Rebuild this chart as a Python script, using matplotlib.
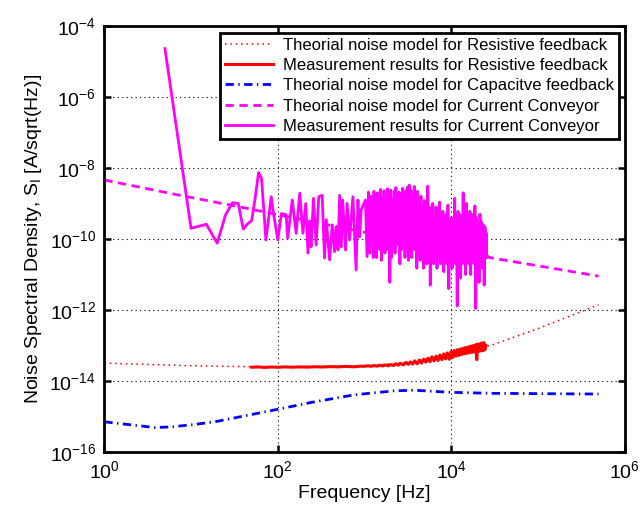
import numpy as np
import matplotlib.pyplot as plt
from matplotlib.ticker import FixedLocator, NullLocator

plt.rcParams['font.family'] = ['Liberation Sans', 'DejaVu Sans']
plt.rcParams['mathtext.default'] = 'regular'

# theory curves
res_th_f = [1, 10, 100, 1000, 3000, 1e4, 3e4, 1e5, 5e5]
res_th_v = [3.2e-14, 2.7e-14, 2.45e-14, 2.7e-14, 3.3e-14, 5.5e-14, 1.05e-13, 3e-13, 1.4e-12]

cap_th_f = [1, 3.8, 5.9, 11, 18.7, 38, 100, 243, 770, 2200, 3800, 1e4, 3.1e4, 5e5]
cap_th_v = [7.1e-16, 4.9e-16, 5.1e-16, 6e-16, 7.1e-16, 1e-15, 1.6e-15, 2.5e-15,
            4.1e-15, 5.3e-15, 5.5e-15, 4.8e-15, 4.5e-15, 4.3e-15]

cc_th_f = [1, 7.4, 36, 67.5, 2.77e4, 5e5]
cc_th_v = [4.6e-9, 1.7e-9, 8.1e-10, 5.9e-10, 3e-11, 9e-12]

# measured resistive feedback
res_m_f = [50, 60, 70, 85, 100, 120, 150, 180, 220, 270, 330, 400, 500, 600, 750, 900,
           1000, 1100, 1200, 1300, 1400, 1500, 1620, 1750, 1880, 2000,
           2150, 2300, 2450, 2600, 2800, 3000, 3200, 3400, 3600, 3800,
           4050, 4300, 4550, 4800, 5100, 5400, 5700, 6000, 6350, 6700,
           7050, 7400, 7800, 8200, 8600, 9000, 9500, 10000, 10400, 10800,
           11250, 11700, 12150, 12600, 13100, 13600, 14100, 14600, 15150, 15700,
           16250, 16800, 17400, 18000, 18600, 19200, 19700, 20200, 20800, 21400,
           22000, 22600, 23200, 23800, 24400, 25000]
res_m_v = [2.45e-14, 2.5e-14, 2.42e-14, 2.48e-14, 2.44e-14, 2.5e-14, 2.45e-14, 2.5e-14,
           2.46e-14, 2.52e-14, 2.48e-14, 2.55e-14, 2.5e-14, 2.58e-14, 2.52e-14, 2.62e-14,
           2.6e-14, 2.68e-14, 2.6e-14, 2.72e-14, 2.62e-14, 2.78e-14, 2.65e-14, 2.85e-14, 2.68e-14, 2.9e-14,
           2.72e-14, 3.05e-14, 2.8e-14, 3.15e-14, 2.85e-14, 3.35e-14, 2.95e-14, 3.45e-14, 3.0e-14, 3.7e-14,
           3.05e-14, 3.9e-14, 3.2e-14, 4.1e-14, 3.4e-14, 4.4e-14, 3.5e-14, 4.8e-14, 3.7e-14, 5.0e-14,
           3.8e-14, 5.4e-14, 4.0e-14, 5.8e-14, 4.2e-14, 6.2e-14, 4.1e-14, 6.8e-14, 4.6e-14, 7.2e-14,
           5.0e-14, 7.6e-14, 5.2e-14, 8.0e-14, 5.5e-14, 8.4e-14, 5.8e-14, 8.8e-14, 6.0e-14, 9.2e-14,
           6.2e-14, 9.6e-14, 6.4e-14, 1.0e-13, 6.6e-14, 1.05e-13, 4.0e-14, 1.1e-13, 6.8e-14, 1.12e-13,
           7.0e-14, 1.18e-13, 7.2e-14, 1.2e-13, 7.5e-14, 1.0e-13]

# measured current conveyor
cc_m_f = [5, 10, 15, 20, 25, 30, 35, 40, 45, 50, 55, 60, 65, 73, 84, 88, 100, 110, 125,
          130, 147, 157, 163, 179, 195, 210, 223, 233, 242, 258, 277, 297, 325, 346, 362,
          396, 425, 452, 470, 495, 517, 540, 560, 605, 630, 673, 735, 800, 840, 878, 915,
          1025, 1070, 1110,
          1150, 1175, 1200, 1230, 1260, 1285, 1310, 1340, 1370, 1405,
          1440, 1470, 1500, 1535, 1570, 1605, 1640, 1680, 1720, 1760,
          1800, 1840, 1880, 1920, 1960, 2005, 2050, 2100, 2150, 2200,
          2250, 2300, 2350, 2400, 2450, 2505, 2560, 2620, 2680, 2740,
          2800, 2865, 2930, 3000, 3070, 3140, 3210, 3280, 3350, 3430,
          3510, 3590, 3670, 3750, 3830, 3920, 4010, 4100, 4190, 4285,
          4380, 4480, 4580, 4685, 4790, 4900, 5010, 5125, 5240, 5360,
          5480, 5605, 5730, 5860, 5990, 6130, 6270, 6410, 6550, 6700,
          6850, 7010, 7170, 7335, 7500, 7670, 7840, 8020, 8200, 8385,
          8570, 8765, 8960, 9165, 9370, 9585, 9800, 10025, 10250, 10485,
          10720, 10965, 11210, 11465, 11720, 11990, 12260, 12540, 12820, 13110,
          13400, 13710, 14020, 14340, 14660, 14995, 15330, 15680, 16030, 16395,
          16760, 17145, 17530, 17930, 18330, 18750, 19170, 19610, 20050, 20505,
          20960, 21440, 21920, 22425, 22930, 23455, 23980, 24490, 25000, 25250,
          25500, 26500]
cc_m_v = [2.3e-5, 2e-10, 2.6e-10, 7.6e-11, 4.8e-10, 1.05e-9, 1e-9, 1.9e-10, 2.7e-10,
          3.3e-10, 1.5e-9, 7.4e-9, 5.1e-9, 9.4e-11, 1.55e-9, 6.6e-10, 9.4e-11, 5.2e-10,
          4.8e-10, 1.05e-10, 1.25e-9, 3.1e-10, 1.45e-10, 1.95e-9, 1.45e-10, 1e-9, 4e-11,
          3.1e-10, 6e-11, 1.4e-9, 6.8e-11, 1.55e-9, 1.7e-9, 2.9e-11, 3.5e-10, 2.6e-11,
          2.5e-10, 4.4e-11, 2.2e-10, 4.9e-11, 1.7e-9, 6e-11, 1.25e-9, 4.9e-11, 1e-9,
          9.4e-11, 1.55e-9, 1.35e-11, 1.25e-9, 1.15e-10, 6.6e-10, 1.25e-9, 3.2e-11, 2.1e-9,
          4e-11, 1.6e-9, 7e-11, 1.2e-9, 3e-11, 2.2e-9, 9e-11, 1.7e-9, 3e-11, 2.0e-9,
          8e-11, 1.8e-9, 5e-11, 2.5e-9, 2.5e-11, 1.4e-9, 6e-11, 2.3e-9, 4e-11, 1.5e-9,
          5e-11, 2.6e-9, 1.2e-10, 1.9e-9, 6e-12, 2.4e-9, 3e-11, 1.3e-9, 7e-11, 2.2e-9,
          4e-11, 2.8e-9, 9e-11, 1.6e-9, 7e-11, 2.1e-9, 2e-11, 1.9e-9, 5e-11, 2.7e-9,
          9e-11, 1.5e-9, 3e-11, 2.3e-9, 6e-11, 2.9e-9, 2.5e-11, 3.3e-9, 6e-11, 2.4e-9,
          3e-11, 1.7e-9, 8e-11, 3.0e-9, 5e-11, 2.0e-9, 1.5e-11, 2.2e-9, 4e-11, 1.3e-9,
          2.5e-11, 1.6e-9, 6e-11, 9e-10, 1.5e-11, 1.2e-9, 4e-11, 7e-10, 2e-11, 3.1e-9,
          1.2e-10, 8e-10, 5e-12, 6e-10, 3e-11, 1.0e-9, 2e-11, 4e-10, 6e-11, 8e-10,
          1.5e-11, 5e-10, 3e-11, 1.1e-9, 2e-11, 3.5e-10, 5e-11, 6e-10, 1.2e-11, 4e-10,
          3e-11, 5e-10, 2e-11, 9e-10, 4e-12, 3e-10, 3e-11, 4e-10, 1.5e-11, 3.5e-10,
          5e-11, 1.4e-9, 2e-11, 4e-10, 1.3e-12, 6e-10, 3e-11, 5e-10, 8e-12, 3e-10,
          2e-11, 2e-9, 4e-11, 7e-10, 1e-11, 1.0e-9, 3e-11, 4e-10, 2e-11, 6e-10,
          1e-11, 5e-10, 3e-11, 3e-10, 2e-11, 8.6e-10, 1.1e-12, 4e-10, 3e-11, 2.5e-10,
          6e-12, 5e-10, 4e-11, 3e-10, 1.5e-11, 2.5e-10, 5e-12, 2.2e-10, 3e-11, 1.5e-10,
          3e-11, 3.2e-11]

fig = plt.figure(figsize=(6.44, 5.19), dpi=100)
ax = fig.add_axes([0.162, 0.129, 0.808, 0.821])

ax.loglog(res_th_f, res_th_v, color='r', lw=1.1, linestyle=(0, (1, 2.5)),
          label='Theorial noise model for Resistive feedback')
ax.loglog(res_m_f, res_m_v, color='r', lw=2.2,
          label='Measurement results for Resistive feedback')
ax.loglog(cap_th_f, cap_th_v, color='b', lw=2, linestyle=(0, (3, 1.6, 0.5, 1.6)),
          label='Theorial noise model for Capacitve feedback')
ax.loglog(cc_th_f, cc_th_v, color='#ff00ff', lw=2, linestyle=(0, (3, 2)),
          label='Theorial noise model for Current Conveyor')
ax.loglog(cc_m_f, cc_m_v, color='#ff00ff', lw=2,
          label='Measurement results for Current Conveyor')

ax.set_xlim(1, 1e6)
ax.set_ylim(1e-16, 1e-4)
ax.xaxis.set_major_locator(FixedLocator([1, 1e2, 1e4, 1e6]))
ax.yaxis.set_major_locator(FixedLocator([1e-16, 1e-14, 1e-12, 1e-10, 1e-8, 1e-6, 1e-4]))
ax.xaxis.set_minor_locator(NullLocator())
ax.yaxis.set_minor_locator(NullLocator())

ax.grid(True, color='k', lw=0.8, linestyle=(0, (1, 3)))
ax.tick_params(direction='in', length=5, width=1.8, labelsize=14, pad=6,
               top=True, right=True)
for s in ax.spines.values():
    s.set_linewidth(2)

ax.set_xlabel('Frequency [Hz]', fontsize=14, labelpad=2)
ax.set_ylabel('Noise Spectral Density, S$_\\mathregular{I}$ [A/sqrt(Hz)]', fontsize=14, labelpad=4)

leg = ax.legend(loc='upper right', bbox_to_anchor=(0.9885, 0.9836), borderaxespad=0,
                fontsize=12, fancybox=False, framealpha=1, edgecolor='k',
                handlelength=2.9, labelspacing=0.32, borderpad=0.28, handletextpad=0.6)
leg.get_frame().set_linewidth(2)

plt.savefig('out.png', dpi=100)
